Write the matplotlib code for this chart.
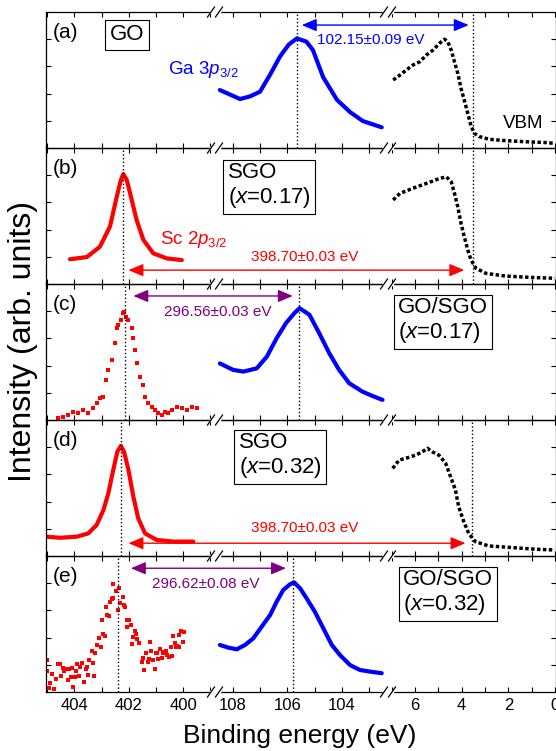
import matplotlib
matplotlib.use('Agg')
import matplotlib.pyplot as plt
from matplotlib.lines import Line2D
from matplotlib.ticker import MultipleLocator, FormatStrFormatter

plt.rcParams['font.family'] = ['Liberation Sans', 'DejaVu Sans']
plt.rcParams['mathtext.fontset'] = 'custom'
plt.rcParams['mathtext.rm'] = 'Liberation Sans'
plt.rcParams['mathtext.it'] = 'Liberation Sans:italic'

# ---- data (binding energy in eV, intensity in arb. units) ----
# (a) GO
ga_a_e = [108.47, 107.73, 107.36, 107.0, 106.64, 106.27, 105.95, 105.65, 105.3, 105.06, 104.69, 104.18, 103.70, 103.23, 102.54]
ga_a_i = [2.13, 1.80, 1.90, 2.07, 2.68, 3.36, 3.80, 4.03, 3.91, 3.60, 2.61, 1.77, 1.32, 0.99, 0.76]
vb_a_e = [6.94, 6.65, 6.37, 6.09, 5.80, 5.51, 5.23, 4.95, 4.74, 4.60, 4.45, 4.31, 4.17, 4.03, 3.89,
          3.74, 3.60, 3.46, 3.25, 2.82, 2.11, 1.26, 0.41, 0.01]
vb_a_i = [2.50, 2.68, 2.87, 3.05, 3.17, 3.42, 3.60, 3.85, 4.00, 3.91, 3.60, 3.17, 2.75, 2.19, 1.76,
          1.27, 0.81, 0.54, 0.42, 0.32, 0.27, 0.23, 0.20, 0.17]
# (b) SGO x=0.17
sc_b_e = [404.16, 403.54, 403.06, 402.69, 402.44, 402.29, 402.20, 402.07, 401.89, 401.71, 401.46, 401.10, 400.60, 400.05]
sc_b_i = [0.91, 0.99, 1.37, 2.11, 3.21, 3.82, 4.04, 3.82, 3.09, 2.35, 1.62, 1.13, 0.94, 0.88]
vb_b_e = [6.94, 6.65, 6.09, 5.51, 4.95, 4.66, 4.45, 4.31, 4.17, 4.03, 3.89, 3.74, 3.60, 3.39, 2.96, 2.11, 0.98, 0.01]
vb_b_i = [3.09, 3.33, 3.52, 3.70, 3.88, 3.94, 3.76, 3.33, 2.84, 2.23, 1.74, 1.25, 0.88, 0.58, 0.39, 0.29, 0.24, 0.21]
# (c) GO/SGO x=0.17
sc_c_e = [404.59, 404.40, 404.22, 404.04, 403.85, 403.67, 403.49, 403.30, 403.18, 403.06, 402.93, 402.83,
          402.75, 402.63, 402.50, 402.44, 402.38, 402.29, 402.22, 402.17, 402.10, 402.01, 401.89, 401.83,
          401.77, 401.68, 401.58, 401.49, 401.40, 401.28, 401.15, 401.03, 400.91, 400.79, 400.67, 400.54,
          400.42, 400.24, 400.05, 399.87, 399.68, 399.50]
sc_c_i = [0.06, 0.12, 0.18, 0.31, 0.25, 0.37, 0.25, 0.43, 0.61, 0.80, 0.86, 1.47,
          1.84, 2.21, 2.82, 3.37, 3.49, 3.68, 3.92, 3.98, 3.80, 3.68, 3.37, 3.00,
          2.57, 2.08, 1.59, 1.29, 0.86, 0.61, 0.49, 0.37, 0.25, 0.18, 0.31, 0.25,
          0.37, 0.49, 0.43, 0.37, 0.49, 0.43]
ga_c_e = [108.47, 107.98, 107.61, 107.12, 106.75, 106.39, 106.05, 105.74, 105.55, 105.19, 104.83, 104.46,
          104.10, 103.73, 103.24, 102.87, 102.51]
ga_c_i = [2.08, 1.84, 1.78, 1.90, 2.33, 3.01, 3.56, 3.93, 4.11, 3.87, 3.19, 2.45,
          1.84, 1.35, 1.04, 0.88, 0.74]
# (d) SGO x=0.32
sc_d_e = [405.01, 404.53, 403.91, 403.49, 403.18, 402.93, 402.75, 402.57, 402.42, 402.29, 402.17, 402.01,
          401.83, 401.65, 401.40, 400.97, 400.36, 399.63]
sc_d_i = [0.71, 0.67, 0.71, 0.83, 1.14, 1.69, 2.30, 3.16, 3.83, 4.05, 3.83, 3.16,
          2.18, 1.38, 0.83, 0.59, 0.53, 0.53]
vb_d_e = [6.96, 6.68, 6.40, 5.97, 5.69, 5.47, 5.26, 4.98, 4.69, 4.48, 4.27, 4.13, 3.91, 3.70, 3.42,
          2.85, 2.00, 0.86, 0.01]
vb_d_i = [3.22, 3.53, 3.59, 3.71, 3.83, 3.96, 3.83, 3.71, 3.41, 2.92, 2.43, 1.81, 1.26, 0.83, 0.53,
          0.37, 0.32, 0.25, 0.22]
# (e) GO/SGO x=0.32
sc_e_e = [404.99, 404.99, 404.89, 404.83, 404.92, 404.75, 404.67, 404.59, 404.53, 404.50, 404.43, 404.38,
          404.34, 404.28, 404.22, 404.18, 404.13, 404.10, 404.04, 403.97, 403.94, 403.89, 403.81, 403.79,
          403.73, 403.64, 403.57, 403.55, 403.48, 403.45, 403.36, 403.32, 403.28, 403.24, 403.15, 403.10,
          403.03, 402.99, 402.93, 402.87, 402.83, 402.79, 402.71, 402.69, 402.63, 402.56, 402.56, 402.47,
          402.38, 402.36, 402.32, 402.22, 402.17, 402.12, 402.08, 402.05, 401.98, 401.93, 401.89, 401.83,
          401.77, 401.73, 401.68, 401.63, 401.52, 401.49, 401.44, 401.36, 401.31, 401.27, 401.22, 401.17,
          401.09, 401.03, 401.00, 400.95, 400.91, 400.85, 400.79, 400.75, 400.70, 400.67, 400.63, 400.58,
          400.51, 400.46, 400.41, 400.36, 400.30, 400.26, 400.21, 400.17, 400.14, 400.09, 400.02, 399.97]
sc_e_i = [1.18, 0.77, 0.34, 0.66, 0.16, 0.10, 0.47, 1.03, 1.03, 0.59, 0.88, 0.76,
          0.83, 0.86, 0.44, 0.86, 0.56, 0.88, 0.20, 0.54, 0.76, 1.03, 0.59, 0.93,
          1.08, 0.38, 0.86, 0.91, 0.64, 1.18, 1.50, 1.08, 0.59, 1.42, 1.72, 1.97,
          1.64, 2.66, 2.13, 2.06, 3.14, 2.83, 2.81, 3.32, 3.41, 3.44, 3.96, 3.70,
          3.01, 3.84, 3.28, 3.48, 3.19, 3.11, 2.40, 2.65, 2.65, 2.48, 1.76, 2.03,
          2.23, 2.13, 1.96, 1.79, 1.12, 1.25, 0.81, 1.42, 1.10, 1.23, 1.84, 1.50,
          1.18, 0.83, 1.42, 1.45, 1.20, 1.57, 1.25, 1.45, 1.47, 1.42, 1.52, 1.37,
          1.30, 1.64, 1.32, 2.06, 1.79, 1.64, 1.69, 2.10, 1.67, 2.23, 1.85, 2.21]
ga_e_e = [108.47, 108.16, 107.85, 107.55, 107.25, 106.94, 106.63, 106.39, 106.15, 105.90, 105.75, 105.53,
          105.29, 104.99, 104.68, 104.37, 104.07, 103.70, 103.34, 102.97, 102.54]
ga_e_i = [1.73, 1.63, 1.57, 1.73, 1.97, 2.40, 2.83, 3.32, 3.75, 3.96, 4.03, 3.81,
          3.44, 2.95, 2.34, 1.73, 1.36, 0.99, 0.81, 0.75, 0.69]

# peak / band-edge positions marked by dotted lines
ga_peak = {'a': 105.65, 'c': 105.58, 'e': 105.80}
sc_peak = {'b': 402.21, 'c': 402.14, 'd': 402.29, 'e': 402.40}
vbm = {'a': 3.52, 'b': 3.50, 'd': 3.56}

offsets = ['102.15\u00b10.09 eV', '398.70\u00b10.03 eV', '296.56\u00b10.03 eV',
           '398.70\u00b10.03 eV', '296.62\u00b10.08 eV']
samples = ['GO', 'SGO\n($x$=0.17)', 'GO/SGO\n($x$=0.17)', 'SGO\n($x$=0.32)', 'GO/SGO\n($x$=0.32)']

BLUE, RED, PURPLE = '#0000ff', '#ff0000', '#800080'

# ---- layout: 5 panels x 3 broken x-segments ----
W, H = 556, 751
fig = plt.figure(figsize=(W / 100, H / 100), dpi=100)


def fx(x):
    return x / W


def fy(y):
    return 1 - y / H


col_px = [(46, 215), (215, 388), (388, 555.5)]
xlims = [(405.04, 398.83), (108.65, 102.31), (7.16, -0.02)]
top, row_h = 12, 136
rows = 'abcde'

axes = {}
for r, name in enumerate(rows):
    for c in range(3):
        x0, x1 = col_px[c]
        ax = fig.add_axes([fx(x0), fy(top + row_h * (r + 1)), (x1 - x0) / W, row_h / H])
        ax.set_facecolor('none')
        ax.set_xlim(xlims[c])
        ax.set_ylim(0, 5)
        ax.xaxis.set_major_locator(MultipleLocator(2))
        ax.xaxis.set_minor_locator(MultipleLocator(1))
        ax.xaxis.set_major_formatter(FormatStrFormatter('%d'))
        ax.tick_params(axis='x', which='both', direction='in', top=True, bottom=True,
                       length=3.8, width=0.8, labelbottom=(r == 4), labelsize=12, pad=4)
        ax.set_yticks([1, 2, 3, 4])
        ax.tick_params(axis='y', direction='in', left=(c == 0), right=(c == 2),
                       labelleft=False, labelright=False, length=3.8, width=0.8)
        ax.spines['left'].set_visible(c == 0)
        ax.spines['right'].set_visible(c == 2)
        for s in ax.spines.values():
            s.set_linewidth(0.9)
        axes[name, c] = ax


def smooth(ax, e, i, color):
    ax.plot(e, i, '-', color=color, lw=3.0, solid_joinstyle='round', solid_capstyle='round')


def dotted(ax, e, i):
    ax.plot(e, i, color='k', lw=2.5, ls=(0, (1, 0.7)))


def noisy(ax, e, i):
    ax.plot(e, i, 's', color=RED, ms=3.2, mew=0)


smooth(axes['a', 1], ga_a_e, ga_a_i, BLUE)
dotted(axes['a', 2], vb_a_e, vb_a_i)
smooth(axes['b', 0], sc_b_e, sc_b_i, RED)
dotted(axes['b', 2], vb_b_e, vb_b_i)
noisy(axes['c', 0], sc_c_e, sc_c_i)
smooth(axes['c', 1], ga_c_e, ga_c_i, BLUE)
smooth(axes['d', 0], sc_d_e, sc_d_i, RED)
dotted(axes['d', 2], vb_d_e, vb_d_i)
noisy(axes['e', 0], sc_e_e, sc_e_i)
smooth(axes['e', 1], ga_e_e, ga_e_i, BLUE)

for k, v in ga_peak.items():
    axes[k, 1].axvline(v, color='k', ls=':', lw=1)
for k, v in sc_peak.items():
    axes[k, 0].axvline(v, color='k', ls=':', lw=1)
for k, v in vbm.items():
    axes[k, 2].axvline(v, color='k', ls=':', lw=1)


def darrow(ax_from, x_from, ax_to, x_to, y, color):
    ax_to.annotate('', xy=(x_to, y), xycoords='data', xytext=(x_from, y),
                   textcoords=ax_from.transData, annotation_clip=False,
                   arrowprops=dict(arrowstyle='<|-|>,head_length=0.9,head_width=0.38',
                                   color=color, lw=1.0, shrinkA=0, shrinkB=0,
                                   mutation_scale=10))


darrow(axes['a', 1], 105.47, axes['a', 2], 3.70, 4.52, BLUE)
darrow(axes['b', 0], 402.01, axes['b', 2], 3.89, 0.51, RED)
darrow(axes['c', 0], 401.83, axes['c', 1], 105.80, 4.56, PURPLE)
darrow(axes['d', 0], 402.01, axes['d', 2], 3.84, 0.47, RED)
darrow(axes['e', 0], 401.92, axes['e', 1], 106.05, 4.55, PURPLE)

# arrow labels
lab_pos = [(371, 40), (305, 257), (218, 312), (305, 528), (206, 584)]
lab_col = [BLUE, RED, PURPLE, RED, PURPLE]
for txt, (x, y), col in zip(offsets, lab_pos, lab_col):
    fig.text(fx(x), fy(y), txt, color=col, fontsize=11, ha='center', va='center')

# sample boxes
box_pos = [(127, 35), (269, 186), (443, 321), (280, 456), (448, 593)]
for txt, (x, y) in zip(samples, box_pos):
    fig.text(fx(x), fy(y), txt, fontsize=16, ha='center', va='center', multialignment='left',
             linespacing=1.1,
             bbox=dict(boxstyle='square,pad=0.2', fc='white', ec='black', lw=0.8))

# panel letters
for r, name in enumerate(rows):
    axes[name, 0].text((53 - 46) / 169, 1 - 20 / row_h, '(%s)' % name, transform=axes[name, 0].transAxes,
                       fontsize=15, ha='left', va='center')

fig.text(fx(168), fy(69), 'Ga 3$p_{3/2}$', color=BLUE, fontsize=13.5, ha='left', va='center')
fig.text(fx(160), fy(240), 'Sc 2$p_{3/2}$', color=RED, fontsize=13.5, ha='left', va='center')
fig.text(fx(523), fy(123), 'VBM', fontsize=13.5, ha='center', va='center')

fig.text(fx(300), fy(736), 'Binding energy (eV)', fontsize=19, ha='center', va='center')
fig.text(fx(23), fy(342), 'Intensity (arb. units)', fontsize=23, rotation=90, ha='center', va='center')

# axis break marks
for yb in [top + row_h * k for k in range(6)]:
    for xb in [215, 388]:
        fig.add_artist(Line2D([fx(xb - 4), fx(xb + 4)], [fy(yb), fy(yb)], color='white', lw=2.5,
                              transform=fig.transFigure))
        for xs in (xb - 4, xb + 4):
            fig.add_artist(Line2D([fx(xs - 3.5), fx(xs + 3.5)], [fy(yb + 5), fy(yb - 5)], color='k',
                                  lw=0.9, transform=fig.transFigure))

fig.savefig('out.png', dpi=100)
